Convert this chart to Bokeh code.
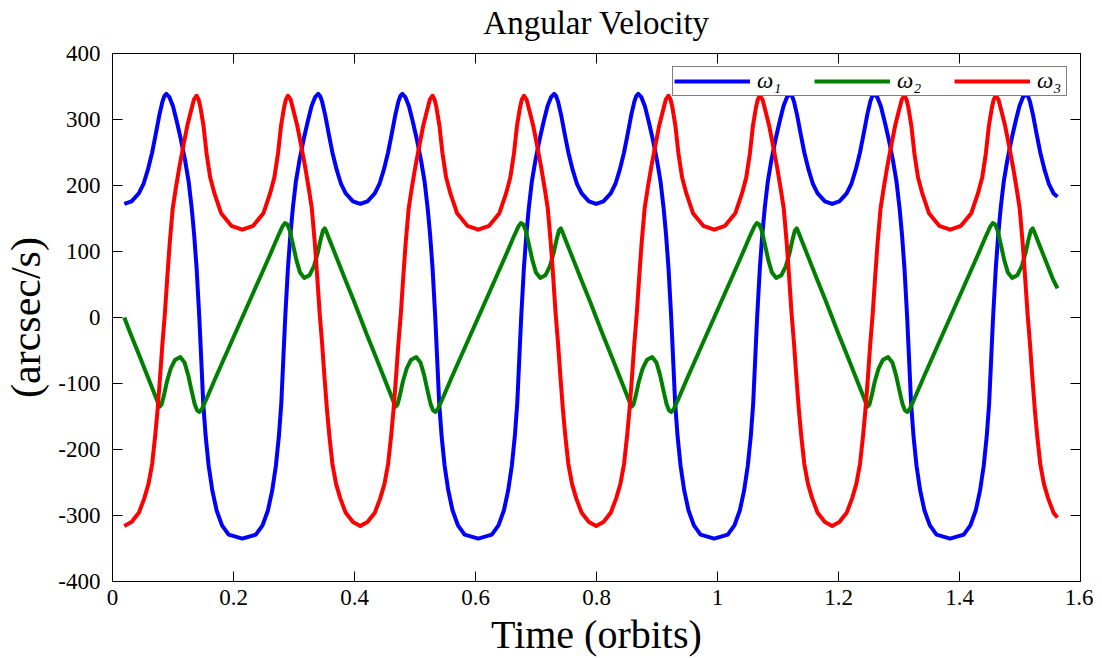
from bokeh.plotting import figure
from bokeh.models import LinearAxis, FixedTicker, Range1d, Legend, LegendItem
from bokeh.embed import file_html
from bokeh.resources import INLINE

# ---------------- data ----------------
x_ticks = [0, 0.2, 0.4, 0.6, 0.8, 1.0, 1.2, 1.4, 1.6]
x_tick_labels = ["0", "0.2", "0.4", "0.6", "0.8", "1", "1.2", "1.4", "1.6"]
y_ticks = [-400, -300, -200, -100, 0, 100, 200, 300, 400]
y_tick_labels = ["-400", "-300", "-200", "-100", "0", "100", "200", "300", "400"]

series_names = ["ω₁", "ω₂", "ω₃"]

blue_t = [
    0.0195, 0.0315, 0.0435, 0.0515, 0.0585, 0.0655, 0.0715, 0.0775, 0.0825, 0.086, 0.089, 0.094, 0.100, 0.106, 0.113, 0.120, 0.126, 0.131, 0.135, 0.139, 0.1435, 0.147, 0.150, 0.154, 0.159, 0.165, 0.172, 0.181, 0.192, 0.2145, 0.237, 0.248, 0.257, 0.264, 0.270, 0.275, 0.279, 0.282, 0.2855, 0.290, 0.294, 0.298, 0.303, 0.309, 0.316, 0.323, 0.329, 0.335, 0.340, 0.343, 0.3465, 0.3515, 0.3575, 0.3635, 0.3705, 0.3775, 0.3855, 0.3975,
    0.4095, 0.4215, 0.4335, 0.4415, 0.4485, 0.4555, 0.4615, 0.4675, 0.4725, 0.476, 0.479, 0.484, 0.490, 0.496, 0.503, 0.510, 0.516, 0.521, 0.525, 0.529, 0.5335, 0.537, 0.540, 0.544, 0.549, 0.555, 0.562, 0.571, 0.582, 0.6045, 0.627, 0.638, 0.647, 0.654, 0.660, 0.665, 0.669, 0.672, 0.6755, 0.680, 0.684, 0.688, 0.693, 0.699, 0.706, 0.713, 0.719, 0.725, 0.730, 0.733, 0.7365, 0.7415, 0.7475, 0.7535, 0.7605, 0.7675, 0.7755, 0.7875,
    0.7995, 0.8115, 0.8235, 0.8315, 0.8385, 0.8455, 0.8515, 0.8575, 0.8625, 0.866, 0.869, 0.874, 0.880, 0.886, 0.893, 0.900, 0.906, 0.911, 0.915, 0.919, 0.9235, 0.927, 0.930, 0.934, 0.939, 0.945, 0.952, 0.961, 0.972, 0.9945, 1.017, 1.028, 1.037, 1.044, 1.050, 1.055, 1.059, 1.062, 1.0655, 1.070, 1.074, 1.078, 1.083, 1.089, 1.096, 1.103, 1.109, 1.115, 1.120, 1.123, 1.1265, 1.1315, 1.1375, 1.1435, 1.1505, 1.1575, 1.1655, 1.1775,
    1.1895, 1.2015, 1.2135, 1.2215, 1.2285, 1.2355, 1.2415, 1.2475, 1.2525, 1.256, 1.259, 1.264, 1.270, 1.276, 1.283, 1.290, 1.296, 1.301, 1.305, 1.309, 1.3135, 1.317, 1.320, 1.324, 1.329, 1.335, 1.342, 1.351, 1.362, 1.3845, 1.407, 1.418, 1.427, 1.434, 1.440, 1.445, 1.449, 1.452, 1.4555, 1.460, 1.464, 1.468, 1.473, 1.479, 1.486, 1.493, 1.499, 1.505, 1.510, 1.513, 1.5165, 1.5215, 1.5275, 1.5335, 1.5405, 1.5475, 1.5555, 1.562,
]
omega1 = [
    172, 176, 188, 203, 224, 250, 278, 307, 327, 336, 339, 334, 320, 298, 270, 238, 205, 165, 125, 75, 0, -70, -130, -180, -225, -262, -292, -315, -329, -335, -329, -315, -292, -262, -225, -180, -130, -70, 0, 75, 125, 165, 205, 238, 270, 298, 320, 334, 339, 336, 327, 307, 278, 250, 224, 203, 188, 176,
    172, 176, 188, 203, 224, 250, 278, 307, 327, 336, 339, 334, 320, 298, 270, 238, 205, 165, 125, 75, 0, -70, -130, -180, -225, -262, -292, -315, -329, -335, -329, -315, -292, -262, -225, -180, -130, -70, 0, 75, 125, 165, 205, 238, 270, 298, 320, 334, 339, 336, 327, 307, 278, 250, 224, 203, 188, 176,
    172, 176, 188, 203, 224, 250, 278, 307, 327, 336, 339, 334, 320, 298, 270, 238, 205, 165, 125, 75, 0, -70, -130, -180, -225, -262, -292, -315, -329, -335, -329, -315, -292, -262, -225, -180, -130, -70, 0, 75, 125, 165, 205, 238, 270, 298, 320, 334, 339, 336, 327, 307, 278, 250, 224, 203, 188, 176,
    172, 176, 188, 203, 224, 250, 278, 307, 327, 336, 339, 334, 320, 298, 270, 238, 205, 165, 125, 75, 0, -70, -130, -180, -225, -262, -292, -315, -329, -335, -329, -315, -292, -262, -225, -180, -130, -70, 0, 75, 125, 165, 205, 238, 270, 298, 320, 334, 339, 336, 327, 307, 278, 250, 224, 203, 188, 183,
]

green_t = [
    0.0195, 0.030, 0.045, 0.060, 0.070, 0.075, 0.078, 0.081, 0.085, 0.090, 0.096, 0.1035, 0.112, 0.119, 0.125, 0.131, 0.136, 0.140, 0.144, 0.148, 0.156, 0.170, 0.185, 0.200, 0.2145, 0.229, 0.244, 0.259, 0.273, 0.281, 0.285, 0.289, 0.293, 0.298, 0.304, 0.310, 0.317, 0.3255, 0.333, 0.339, 0.344, 0.348, 0.351, 0.354, 0.359, 0.369, 0.384, 0.399,
    0.4095, 0.420, 0.435, 0.450, 0.460, 0.465, 0.468, 0.471, 0.475, 0.480, 0.486, 0.4935, 0.502, 0.509, 0.515, 0.521, 0.526, 0.530, 0.534, 0.538, 0.546, 0.560, 0.575, 0.590, 0.6045, 0.619, 0.634, 0.649, 0.663, 0.671, 0.675, 0.679, 0.683, 0.688, 0.694, 0.700, 0.707, 0.7155, 0.723, 0.729, 0.734, 0.738, 0.741, 0.744, 0.749, 0.759, 0.774, 0.789,
    0.7995, 0.810, 0.825, 0.840, 0.850, 0.855, 0.858, 0.861, 0.865, 0.870, 0.876, 0.8835, 0.892, 0.899, 0.905, 0.911, 0.916, 0.920, 0.924, 0.928, 0.936, 0.950, 0.965, 0.980, 0.9945, 1.009, 1.024, 1.039, 1.053, 1.061, 1.065, 1.069, 1.073, 1.078, 1.084, 1.090, 1.097, 1.1055, 1.113, 1.119, 1.124, 1.128, 1.131, 1.134, 1.139, 1.149, 1.164, 1.179,
    1.1895, 1.200, 1.215, 1.230, 1.240, 1.245, 1.248, 1.251, 1.255, 1.260, 1.266, 1.2735, 1.282, 1.289, 1.295, 1.301, 1.306, 1.310, 1.314, 1.318, 1.326, 1.340, 1.355, 1.370, 1.3845, 1.399, 1.414, 1.429, 1.443, 1.451, 1.455, 1.459, 1.463, 1.468, 1.474, 1.480, 1.487, 1.4955, 1.503, 1.509, 1.514, 1.518, 1.521, 1.524, 1.529, 1.539, 1.554, 1.562,
]
omega2 = [
    0, -25, -59, -94, -117, -129, -135, -132, -118, -97, -78, -64, -60, -68, -87, -112, -132, -141, -143, -138, -122, -92, -61, -30, 0, 30, 61, 92, 122, 138, 143, 141, 132, 112, 87, 68, 60, 64, 78, 97, 118, 132, 135, 129, 117, 94, 59, 25,
    0, -25, -59, -94, -117, -129, -135, -132, -118, -97, -78, -64, -60, -68, -87, -112, -132, -141, -143, -138, -122, -92, -61, -30, 0, 30, 61, 92, 122, 138, 143, 141, 132, 112, 87, 68, 60, 64, 78, 97, 118, 132, 135, 129, 117, 94, 59, 25,
    0, -25, -59, -94, -117, -129, -135, -132, -118, -97, -78, -64, -60, -68, -87, -112, -132, -141, -143, -138, -122, -92, -61, -30, 0, 30, 61, 92, 122, 138, 143, 141, 132, 112, 87, 68, 60, 64, 78, 97, 118, 132, 135, 129, 117, 94, 59, 25,
    0, -25, -59, -94, -117, -129, -135, -132, -118, -97, -78, -64, -60, -68, -87, -112, -132, -141, -143, -138, -122, -92, -61, -30, 0, 30, 61, 92, 122, 138, 143, 141, 132, 112, 87, 68, 60, 64, 78, 97, 118, 132, 135, 129, 117, 94, 59, 44,
]

red_t = [
    0.0195, 0.0315, 0.0435, 0.0525, 0.0595, 0.0655, 0.0705, 0.0745, 0.0785, 0.0825, 0.0865, 0.0905, 0.0945, 0.0995, 0.1045, 0.1105, 0.1175, 0.1235, 0.1295, 0.1345, 0.139,
    0.1425, 0.1455, 0.1505, 0.1555, 0.1615, 0.1685, 0.1795, 0.1965, 0.2145, 0.2325, 0.2495, 0.2605, 0.2675, 0.2735, 0.2785, 0.2835, 0.2865, 0.290,
    0.2945, 0.2995, 0.3055, 0.3115, 0.3185, 0.3245, 0.3295, 0.3345, 0.3385, 0.3425, 0.3465, 0.3505, 0.3545, 0.3585, 0.3635, 0.3695, 0.3765, 0.3855, 0.3975,
    0.4095, 0.4215, 0.4335, 0.4425, 0.4495, 0.4555, 0.4605, 0.4645, 0.4685, 0.4725, 0.4765, 0.4805, 0.4845, 0.4895, 0.4945, 0.5005, 0.5075, 0.5135, 0.5195, 0.5245, 0.529,
    0.5325, 0.5355, 0.5405, 0.5455, 0.5515, 0.5585, 0.5695, 0.5865, 0.6045, 0.6225, 0.6395, 0.6505, 0.6575, 0.6635, 0.6685, 0.6735, 0.6765, 0.680,
    0.6845, 0.6895, 0.6955, 0.7015, 0.7085, 0.7145, 0.7195, 0.7245, 0.7285, 0.7325, 0.7365, 0.7405, 0.7445, 0.7485, 0.7535, 0.7595, 0.7665, 0.7755, 0.7875,
    0.7995, 0.8115, 0.8235, 0.8325, 0.8395, 0.8455, 0.8505, 0.8545, 0.8585, 0.8625, 0.8665, 0.8705, 0.8745, 0.8795, 0.8845, 0.8905, 0.8975, 0.9035, 0.9095, 0.9145, 0.919,
    0.9225, 0.9255, 0.9305, 0.9355, 0.9415, 0.9485, 0.9595, 0.9765, 0.9945, 1.0125, 1.0295, 1.0405, 1.0475, 1.0535, 1.0585, 1.0635, 1.0665, 1.070,
    1.0745, 1.0795, 1.0855, 1.0915, 1.0985, 1.1045, 1.1095, 1.1145, 1.1185, 1.1225, 1.1265, 1.1305, 1.1345, 1.1385, 1.1435, 1.1495, 1.1565, 1.1655, 1.1775,
    1.1895, 1.2015, 1.2135, 1.2225, 1.2295, 1.2355, 1.2405, 1.2445, 1.2485, 1.2525, 1.2565, 1.2605, 1.2645, 1.2695, 1.2745, 1.2805, 1.2875, 1.2935, 1.2995, 1.3045, 1.309,
    1.3125, 1.3155, 1.3205, 1.3255, 1.3315, 1.3385, 1.3495, 1.3665, 1.3845, 1.4025, 1.4195, 1.4305, 1.4375, 1.4435, 1.4485, 1.4535, 1.4565, 1.460,
    1.4645, 1.4695, 1.4755, 1.4815, 1.4885, 1.4945, 1.4995, 1.5045, 1.5085, 1.5125, 1.5165, 1.5205, 1.5245, 1.5285, 1.5335, 1.5395, 1.5465, 1.5555, 1.562,
]
omega3 = [
    -316, -310, -296, -274, -252, -222, -180, -140, -92, -40, 5, 60, 112, 165, 195, 228, 262, 290, 312, 330, 336,
    330, 318, 290, 248, 212, 188, 158, 139, 133, 139, 158, 188, 212, 248, 290, 318, 330, 336,
    330, 312, 290, 262, 228, 195, 165, 112, 60, 5, -40, -92, -140, -180, -222, -252, -274, -296, -310,
    -316, -310, -296, -274, -252, -222, -180, -140, -92, -40, 5, 60, 112, 165, 195, 228, 262, 290, 312, 330, 336,
    330, 318, 290, 248, 212, 188, 158, 139, 133, 139, 158, 188, 212, 248, 290, 318, 330, 336,
    330, 312, 290, 262, 228, 195, 165, 112, 60, 5, -40, -92, -140, -180, -222, -252, -274, -296, -310,
    -316, -310, -296, -274, -252, -222, -180, -140, -92, -40, 5, 60, 112, 165, 195, 228, 262, 290, 312, 330, 336,
    330, 318, 290, 248, 212, 188, 158, 139, 133, 139, 158, 188, 212, 248, 290, 318, 330, 336,
    330, 312, 290, 262, 228, 195, 165, 112, 60, 5, -40, -92, -140, -180, -222, -252, -274, -296, -310,
    -316, -310, -296, -274, -252, -222, -180, -140, -92, -40, 5, 60, 112, 165, 195, 228, 262, 290, 312, 330, 336,
    330, 318, 290, 248, 212, 188, 158, 139, 133, 139, 158, 188, 212, 248, 290, 318, 330, 336,
    330, 312, 290, 262, 228, 195, 165, 112, 60, 5, -40, -92, -140, -180, -222, -252, -274, -296, -303,
]

# ---------------- figure ----------------
SERIF = "Liberation Serif"

p = figure(
    frame_width=968, frame_height=528,
    x_range=Range1d(0, 1.6), y_range=Range1d(-400, 400),
    output_backend="svg", toolbar_location=None,
    min_border_left=105, min_border_right=13, min_border_top=10, min_border_bottom=60,
    background_fill_color="white", border_fill_color="white",
    title="Angular Velocity",
)
p.title.align = "center"
p.title.vertical_align = "bottom"
p.title.text_font = SERIF
p.title.text_font_size = "33px"
p.title.text_font_style = "normal"
p.title.text_color = "black"
p.title.standoff = 4

p.xgrid.visible = False
p.ygrid.visible = False
p.outline_line_color = "black"
p.outline_line_width = 1


def style_axis(ax, labels=True):
    ax.major_tick_in = 10
    ax.major_tick_out = 0
    ax.minor_tick_line_color = None
    ax.axis_line_color = "black"
    ax.major_tick_line_color = "black"
    ax.major_label_text_font = SERIF
    if labels:
        ax.major_label_text_color = "black"
        ax.major_label_text_font_size = "23px"
    else:
        ax.major_label_text_color = None
        ax.major_label_text_font_size = "0px"
        ax.major_label_standoff = 0


xa = p.xaxis[0]
xa.ticker = FixedTicker(ticks=x_ticks)
xa.major_label_overrides = {t: s for t, s in zip(x_ticks, x_tick_labels)}
style_axis(xa)
xa.major_label_standoff = 8
xa.axis_label = "Time (orbits)"
xa.axis_label_text_font = SERIF
xa.axis_label_text_font_size = "40px"
xa.axis_label_text_font_style = "normal"
xa.axis_label_text_color = "black"
xa.axis_label_standoff = 4

ya = p.yaxis[0]
ya.ticker = FixedTicker(ticks=y_ticks)
ya.major_label_overrides = {t: s for t, s in zip(y_ticks, y_tick_labels)}
style_axis(ya)
ya.major_label_standoff = 12
ya.axis_label = "(arcsec/s)"
ya.axis_label_text_font = SERIF
ya.axis_label_text_font_size = "42px"
ya.axis_label_text_font_style = "normal"
ya.axis_label_text_color = "black"
ya.axis_label_standoff = 6

# top and right box axes (ticks only)
top_ax = LinearAxis(ticker=FixedTicker(ticks=x_ticks))
style_axis(top_ax, labels=False)
p.add_layout(top_ax, "above")
right_ax = LinearAxis(ticker=FixedTicker(ticks=y_ticks))
style_axis(right_ax, labels=False)
p.add_layout(right_ax, "right")

# invisible spacer between the box and the title
spacer = LinearAxis(ticker=FixedTicker(ticks=x_ticks))
style_axis(spacer, labels=False)
spacer.major_tick_in = 0
spacer.major_tick_out = 11
spacer.major_tick_line_color = None
spacer.axis_line_color = None
p.add_layout(spacer, "above")

r1 = p.line(blue_t, omega1, line_color="#0000ff", line_width=4, line_join="round")
r2 = p.line(green_t, omega2, line_color="#008000", line_width=4, line_join="round")
r3 = p.line(red_t, omega3, line_color="#ff0000", line_width=4, line_join="round")

legend = Legend(
    items=[LegendItem(label=series_names[0], renderers=[r1]),
           LegendItem(label=series_names[1], renderers=[r2]),
           LegendItem(label=series_names[2], renderers=[r3])],
    orientation="horizontal", location="top_right", margin=13,
    padding=1, spacing=29, glyph_width=76, glyph_height=18,
    label_standoff=7, label_width=28, label_height=18,
    label_text_font=SERIF, label_text_font_size="23px", label_text_font_style="italic",
    label_text_color="black",
    border_line_color="black", border_line_width=1,
    background_fill_color="white", background_fill_alpha=1.0,
)
p.add_layout(legend)

open("out.html", "w").write(file_html(p, INLINE))
